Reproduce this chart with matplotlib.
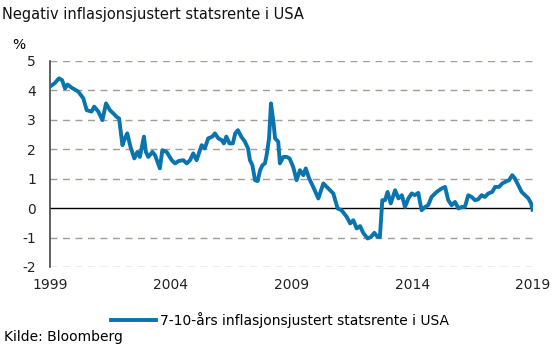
import numpy as np
import matplotlib as mpl
import matplotlib.pyplot as plt

mpl.rcParams['font.family'] = 'DejaVu Sans'
mpl.rcParams['axes.unicode_minus'] = False

# Real rente, 7-10 ars inflasjonsjustert statsobligasjon USA (%)
years = [1999.00, 1999.20, 1999.37, 1999.50, 1999.62, 1999.73, 1999.90,
         2000.17, 2000.38, 2000.52, 2000.72, 2000.83, 2001.00, 2001.17,
         2001.32, 2001.48, 2001.62, 2001.76, 2001.86, 2002.00, 2002.10,
         2002.20, 2002.33, 2002.49, 2002.62, 2002.72, 2002.89, 2002.97,
         2003.07, 2003.24, 2003.35, 2003.55, 2003.65, 2003.83, 2004.04,
         2004.18, 2004.32, 2004.52, 2004.66, 2004.80, 2004.93, 2005.07,
         2005.28, 2005.41, 2005.55, 2005.72, 2005.83, 2005.97, 2006.11,
         2006.20, 2006.30, 2006.43, 2006.57, 2006.67, 2006.78, 2006.92,
         2007.07, 2007.20, 2007.28, 2007.38, 2007.49, 2007.60, 2007.70,
         2007.80, 2007.90, 2007.97, 2008.07, 2008.15, 2008.25, 2008.32,
         2008.45, 2008.52, 2008.66, 2008.80, 2008.92, 2009.07, 2009.21,
         2009.35, 2009.49, 2009.59, 2009.73, 2009.90, 2010.11, 2010.32,
         2010.52, 2010.73, 2010.91, 2011.07, 2011.29, 2011.43, 2011.56,
         2011.70, 2011.84, 2011.97, 2012.15, 2012.29, 2012.43, 2012.57,
         2012.66, 2012.76, 2012.87, 2012.98, 2013.11, 2013.29, 2013.43,
         2013.57, 2013.70, 2013.84, 2013.98, 2014.11, 2014.25, 2014.32,
         2014.39, 2014.53, 2014.66, 2014.80, 2015.01, 2015.22, 2015.36,
         2015.49, 2015.63, 2015.77, 2015.91, 2016.05, 2016.18, 2016.32,
         2016.46, 2016.60, 2016.73, 2016.87, 2017.01, 2017.15, 2017.31,
         2017.43, 2017.59, 2017.73, 2017.87, 2018.01, 2018.14, 2018.25,
         2018.39, 2018.53, 2018.67, 2018.81, 2018.92, 2018.98]
rate = [4.13, 4.25, 4.41, 4.35, 4.07, 4.20, 4.09,
        3.96, 3.73, 3.33, 3.28, 3.45, 3.28, 2.99,
        3.56, 3.33, 3.22, 3.10, 3.05, 2.14, 2.37,
        2.54, 2.09, 1.69, 1.91, 1.74, 2.43, 1.91,
        1.74, 1.91, 1.80, 1.35, 1.97, 1.91, 1.63,
        1.52, 1.60, 1.63, 1.52, 1.63, 1.86, 1.63,
        2.14, 2.03, 2.37, 2.43, 2.54, 2.37, 2.31,
        2.20, 2.43, 2.20, 2.20, 2.54, 2.65, 2.43,
        2.26, 2.03, 1.63, 1.46, 0.95, 0.92, 1.29,
        1.46, 1.52, 1.80, 2.37, 3.56, 2.94, 2.37,
        2.26, 1.52, 1.74, 1.74, 1.69, 1.40, 0.95,
        1.29, 1.12, 1.35, 1.01, 0.72, 0.33, 0.84,
        0.67, 0.50, -0.01, -0.07, -0.30, -0.52, -0.41,
        -0.69, -0.61, -0.84, -1.03, -0.98, -0.84, -0.98,
        -0.98, 0.27, 0.27, 0.55, 0.16, 0.61, 0.33,
        0.44, 0.04, 0.33, 0.50, 0.44, 0.52, 0.21,
        -0.07, 0.04, 0.10, 0.38, 0.55, 0.67, 0.72,
        0.27, 0.10, 0.21, -0.01, 0.04, 0.04, 0.44,
        0.38, 0.27, 0.30, 0.44, 0.38, 0.50, 0.55,
        0.72, 0.72, 0.84, 0.90, 0.95, 1.12, 1.01,
        0.78, 0.55, 0.44, 0.33, 0.16, -0.05]

xticks = [1999, 2004, 2009, 2014, 2019]
yticks = [-2, -1, 0, 1, 2, 3, 4, 5]

fig = plt.figure(figsize=(5.6, 3.47), dpi=100)
ax = fig.add_axes([50 / 560, 1 - 267 / 347, 483 / 560, 206 / 347])

# grid lines
for y in yticks:
    if y == 0:
        ax.axhline(0, color='black', lw=1.0, zorder=2)
    else:
        ax.axhline(y, color='#a59c96', lw=1.0, ls=(0, (5, 4)), zorder=1)

line, = ax.plot(years, rate, color='#0a74ae', lw=2.8, solid_joinstyle='round',
                label='7-10-års inflasjonsjustert statsrente i USA', zorder=3)

ax.set_xlim(1999, 2019)
ax.set_ylim(-2, 5)
ax.set_xticks(xticks)
ax.set_yticks(yticks)
ax.tick_params(axis='both', length=0, labelsize=10, colors='#222222')
ax.tick_params(axis='x', pad=8)
ax.tick_params(axis='y', pad=10)
for s in ['top', 'right', 'bottom']:
    ax.spines[s].set_visible(False)
ax.spines['left'].set_color('#444444')
ax.spines['left'].set_linewidth(1.2)

fig.text(2 / 560, 1 - 14 / 347, 'Negativ inflasjonsjustert statsrente i USA',
         fontsize=10.5, ha='left', va='center', color='#111111')
fig.text(12 / 560, 1 - 45 / 347, '%', fontsize=10, ha='left', va='center')
fig.text(4 / 560, 1 - 337 / 347, 'Kilde: Bloomberg', fontsize=10,
         ha='left', va='center')

fig.legend(handles=[line], loc='center', bbox_to_anchor=(280 / 560, 1 - 320 / 347),
           frameon=False, fontsize=10, handlelength=3.2, handletextpad=0.3)

plt.savefig('out.png', dpi=100)
